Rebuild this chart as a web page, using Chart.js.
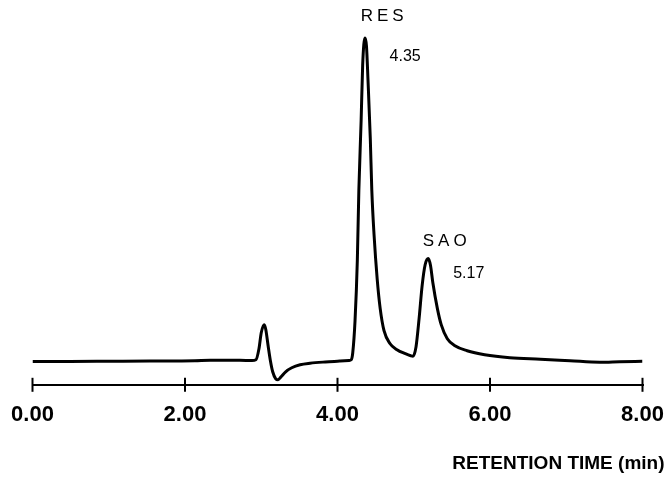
<!DOCTYPE html>
<html><head><meta charset="utf-8">
<script src="https://cdn.jsdelivr.net/npm/chart.js@4.4.1/dist/chart.umd.min.js"></script>
<style>html,body{margin:0;padding:0;background:#fff}</style>
</head><body>
<canvas id="c" width="668" height="492"></canvas>
<script>
// Retention time (min)
const retentionTime = [
  0.00, 0.49, 1.02, 1.54, 2.13, 2.33, 2.72, 2.88,
  2.93, 2.97, 3.00, 3.04, 3.06, 3.09, 3.12, 3.15, 3.19, 3.22, 3.26, 3.32, 3.40, 3.51, 3.64, 3.84, 4.03, 4.15,
  4.18, 4.20, 4.23, 4.26, 4.28, 4.31, 4.33, 4.36, 4.38, 4.40, 4.43, 4.45, 4.48, 4.52, 4.56, 4.61, 4.69, 4.78, 4.89, 4.96, 4.99,
  5.03, 5.07, 5.11, 5.15, 5.19, 5.22, 5.25, 5.31, 5.36, 5.44, 5.54, 5.70, 5.93, 6.26, 6.66, 7.05, 7.44, 7.70, 8.00
];
// Detector response (arbitrary units)
const detectorResponse = [
  -0.7, -0.7, -0.5, -0.3, 0.0, 0.4, 0.4, 0.3,
  1, 12, 28, 36, 31, 15, 0, -11, -18, -19, -16, -11, -7, -4, -2.5, -1.2, -0.3, 0.3,
  1, 8, 40, 100, 170, 240, 295, 322, 314, 280, 222, 170, 125, 82, 52, 30, 17, 11, 7, 5, 4.5,
  14, 42, 75, 96, 102, 95, 78, 52, 36, 22, 15, 10, 6, 3, 1.5, 0, -1.5, -1, -0.5
];
const tickValues = [0, 2, 4, 6, 8];
const tickLabels = ['0.00', '2.00', '4.00', '6.00', '8.00'];
const peakNames = ['RES', 'SAO'];
const peakTimes = [4.35, 5.17];
const axisTitle = 'RETENTION TIME (min)';

const labelOffsets = [
  {nameDx: 20, nameDy: -22, timeDx: 41, timeDy: 19},
  {nameDx: 20, nameDy: -17, timeDx: 42, timeDy: 15}
];

const points = retentionTime.map((t, i) => ({x: t, y: detectorResponse[i]}));

const extras = {
  id: 'extras',
  afterDatasetsDraw(chart) {
    const {ctx, chartArea, scales: {x, y}} = chart;
    ctx.save();
    ctx.strokeStyle = '#000';
    ctx.lineWidth = 2;
    x.ticks.forEach((t, i) => {
      const px = x.getPixelForTick(i);
      ctx.beginPath();
      ctx.moveTo(px, chartArea.bottom - 7);
      ctx.lineTo(px, chartArea.bottom + 7);
      ctx.stroke();
    });
    ctx.fillStyle = '#000';
    ctx.textAlign = 'center';
    ctx.textBaseline = 'middle';
    peakTimes.forEach((t, i) => {
      let best = -Infinity;
      retentionTime.forEach((rt, j) => {
        if (Math.abs(rt - t) < 0.1 && detectorResponse[j] > best) best = detectorResponse[j];
      });
      const px = x.getPixelForValue(t), py = y.getPixelForValue(best);
      const o = labelOffsets[i];
      ctx.font = '17px "Liberation Sans", Arial, sans-serif';
      ctx.letterSpacing = '4px';
      ctx.fillText(peakNames[i], px + o.nameDx, py + o.nameDy);
      ctx.letterSpacing = '0px';
      ctx.font = '16px "Liberation Sans", Arial, sans-serif';
      ctx.fillText(t.toFixed(2), px + o.timeDx, py + o.timeDy);
    });
    ctx.restore();
  }
};

new Chart(document.getElementById('c'), {
  type: 'line',
  data: {
    datasets: [{
      data: points,
      borderColor: '#000',
      borderWidth: 3,
      pointRadius: 0,
      fill: false,
      cubicInterpolationMode: 'monotone'
    }]
  },
  options: {
    responsive: false,
    animation: false,
    events: [],
    layout: {padding: {top: 10, left: 32.5, right: 3.5, bottom: 11}},
    plugins: {
      legend: {display: false},
      tooltip: {enabled: false},
      title: {
        display: true,
        position: 'bottom',
        align: 'end',
        text: axisTitle,
        color: '#000',
        font: {family: '"Liberation Sans", Arial, sans-serif', size: 19, weight: 'bold'},
        padding: {top: 21, bottom: 6}
      }
    },
    scales: {
      x: {
        type: 'linear',
        min: 0, max: 8,
        afterBuildTicks(scale) { scale.ticks = tickValues.map(v => ({value: v})); },
        ticks: {
          callback: (v) => tickLabels[tickValues.indexOf(v)],
          color: '#000',
          padding: 3,
          maxRotation: 0,
          font: {family: '"Liberation Sans", Arial, sans-serif', size: 22, weight: 'bold'}
        },
        grid: {drawOnChartArea: false, drawTicks: true, tickLength: 14, tickColor: 'rgba(0,0,0,0)', color: '#000', lineWidth: 2},
        border: {display: true, color: '#000', width: 2}
      },
      y: {
        position: 'right',
        min: -24, max: 350,
        afterFit(scale) { scale.width = 22; },
        ticks: {display: false},
        grid: {display: false},
        border: {display: false}
      }
    }
  },
  plugins: [extras]
});
</script>
</body></html>
